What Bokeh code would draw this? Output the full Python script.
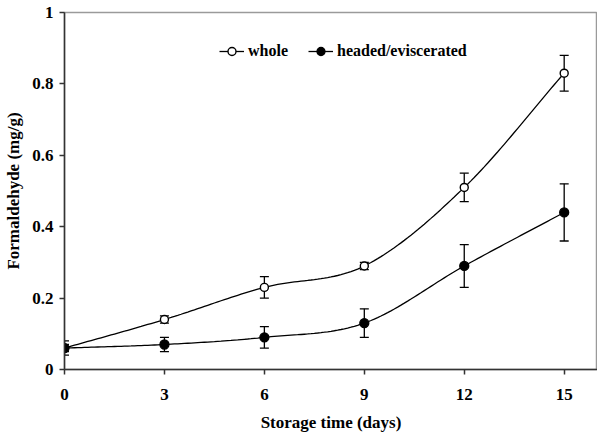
import numpy as np
from bokeh.plotting import figure
from bokeh.models import (ColumnDataSource, Whisker, Legend, LegendItem, Range1d,
                          FixedTicker, TeeHead)
from bokeh.embed import file_html
from bokeh.resources import INLINE

days = [0, 3, 6, 9, 12, 15]
whole = [0.06, 0.14, 0.23, 0.29, 0.51, 0.83]
whole_err = [0.01, 0.01, 0.03, 0.01, 0.04, 0.05]
headed = [0.06, 0.07, 0.09, 0.13, 0.29, 0.44]
headed_err = [0.02, 0.02, 0.03, 0.04, 0.06, 0.08]
x_ticks = [0, 3, 6, 9, 12, 15]
y_ticks = [0, 0.2, 0.4, 0.6, 0.8, 1.0]
y_tick_labels = ["0", "0.2", "0.4", "0.6", "0.8", "1"]

FONT = "Liberation Serif"


def smooth(xs, ys, n=30):
    """Catmull-Rom spline through the data points (rendering only)."""
    xs = np.asarray(xs, float)
    ys = np.asarray(ys, float)
    px = np.concatenate([[2 * xs[0] - xs[1]], xs, [2 * xs[-1] - xs[-2]]])
    py = np.concatenate([[2 * ys[0] - ys[1]], ys, [2 * ys[-1] - ys[-2]]])
    ox, oy = [], []
    for i in range(1, len(px) - 2):
        t = np.linspace(0, 1, n, endpoint=False)
        for arr, out in ((px, ox), (py, oy)):
            p0, p1, p2, p3 = arr[i - 1], arr[i], arr[i + 1], arr[i + 2]
            out.extend(0.5 * ((2 * p1) + (-p0 + p2) * t
                              + (2 * p0 - 5 * p1 + 4 * p2 - p3) * t ** 2
                              + (-p0 + 3 * p1 - 3 * p2 + p3) * t ** 3))
    ox.append(xs[-1])
    oy.append(ys[-1])
    return ox, oy


p = figure(width=597, height=434, output_backend="svg", toolbar_location=None,
           x_range=Range1d(0, 16.0), y_range=Range1d(0, 1.0),
           min_border_left=64, min_border_right=0, min_border_top=12,
           min_border_bottom=58)
p.xgrid.visible = False
p.ygrid.visible = False
p.outline_line_color = "#9a9a9a"
p.outline_line_width = 1.5

for ax in (p.xaxis[0], p.yaxis[0]):
    ax.axis_line_color = "#333333"
    ax.axis_line_width = 1.5
    ax.major_tick_line_color = "#333333"
    ax.major_tick_line_width = 1.5
    ax.major_tick_out = 5
    ax.major_tick_in = 0
    ax.minor_tick_line_color = None
    ax.major_label_text_font = FONT
    ax.major_label_text_font_style = "bold"
    ax.major_label_text_font_size = "17px"
    ax.major_label_text_color = "black"
    ax.axis_label_text_font = FONT
    ax.axis_label_text_font_style = "bold"
    ax.axis_label_text_font_size = "17px"
    ax.axis_label_text_color = "black"

p.xaxis.ticker = FixedTicker(ticks=x_ticks)
p.yaxis.ticker = FixedTicker(ticks=y_ticks)
p.yaxis.major_label_overrides = {t: l for t, l in zip(y_ticks, y_tick_labels)}
p.xaxis.axis_label = "Storage time (days)"
p.yaxis.axis_label = "Formaldehyde (mg/g)"
p.xaxis.major_label_standoff = 14
p.xaxis.axis_label_standoff = 10
p.yaxis.major_label_standoff = 6
p.yaxis.axis_label_standoff = 6

src_w = ColumnDataSource(dict(x=days, y=whole,
                              lo=[v - e for v, e in zip(whole, whole_err)],
                              hi=[v + e for v, e in zip(whole, whole_err)]))
src_h = ColumnDataSource(dict(x=days, y=headed,
                              lo=[v - e for v, e in zip(headed, headed_err)],
                              hi=[v + e for v, e in zip(headed, headed_err)]))

for src in (src_w, src_h):
    w = Whisker(source=src, base="x", lower="lo", upper="hi",
                line_color="black", line_width=1.3,
                upper_head=TeeHead(size=9, line_color="black", line_width=1.3),
                lower_head=TeeHead(size=9, line_color="black", line_width=1.3))
    p.add_layout(w)

sx, sy = smooth(days, whole)
lw = p.line(sx, sy, line_color="black", line_width=1.3)
mw = p.scatter("x", "y", source=src_w, size=8, marker="circle",
               fill_color="white", line_color="black", line_width=1.4)
hx, hy = smooth(days, headed)
lh = p.line(hx, hy, line_color="black", line_width=1.3)
mh = p.scatter("x", "y", source=src_h, size=9, marker="circle",
               fill_color="black", line_color="black", line_width=1.3)

legend = Legend(items=[LegendItem(label="whole", renderers=[lw, mw]),
                       LegendItem(label="headed/eviscerated", renderers=[lh, mh])],
                orientation="horizontal", location=(155, 308),
                border_line_color=None, background_fill_alpha=0,
                padding=0, margin=0, spacing=20, label_standoff=4,
                glyph_width=25, glyph_height=20,
                label_text_font=FONT, label_text_font_style="bold",
                label_text_font_size="16px", label_text_color="black")
p.add_layout(legend, "center")

open("out.html", "w").write(file_html(p, INLINE))
